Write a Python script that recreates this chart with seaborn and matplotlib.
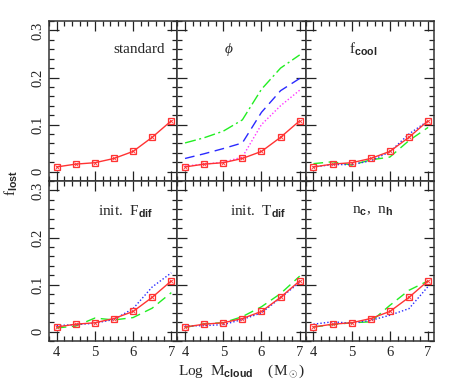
import numpy as np
import pandas as pd
import matplotlib
matplotlib.use('Agg')
import matplotlib.pyplot as plt
from matplotlib.ticker import MultipleLocator
import seaborn as sns

# log cloud mass
logm = [4.0, 4.5, 5.0, 5.5, 6.0, 6.5, 7.0]

# standard model (red squares, shown in every panel)
standard = [0.010, 0.016, 0.019, 0.028, 0.043, 0.073, 0.108]

# phi panel
phi_green = [0.061, 0.072, 0.086, 0.110, 0.175, 0.220, 0.248]
phi_blue = [0.028, 0.038, 0.049, 0.061, 0.126, 0.172, 0.198]
phi_magenta = [0.012, 0.016, 0.020, 0.031, 0.100, 0.140, 0.173]

# f_cool panel
fcool_green = [0.017, 0.021, 0.014, 0.025, 0.031, 0.066, 0.094]
fcool_blue = [0.010, 0.015, 0.015, 0.023, 0.042, 0.080, 0.108]

# init. F_dif panel
fdif_green = [0.008, 0.012, 0.029, 0.025, 0.030, 0.050, 0.083]
fdif_blue = [0.013, 0.015, 0.018, 0.026, 0.049, 0.095, 0.125]

# init. T_dif panel
tdif_green = [0.009, 0.017, 0.019, 0.032, 0.053, 0.081, 0.118]
tdif_blue = [0.012, 0.013, 0.015, 0.026, 0.040, 0.072, 0.105]

# n_c, n_h panel
nc_green = [0.010, 0.015, 0.019, 0.021, 0.056, 0.088, 0.108]
nc_blue = [0.016, 0.021, 0.018, 0.024, 0.035, 0.049, 0.096]

titles = ['standard', r'$\phi$', r'f$_{\rm cool}$',
          r'init.  F$_{\rm dif}$', r'init.  T$_{\rm dif}$', r'n$_{\rm c}$,  n$_{\rm h}$']
title_pos = [(0.70, 0.82), (0.40, 0.82), (0.45, 0.82),
             (0.60, 0.81), (0.63, 0.81), (0.52, 0.81)]

GREEN = '#22ee22'
BLUE = '#2a2aff'
MAGENTA = '#ff33ff'
RED = '#ff3333'

dash_dot = (0, (8, 2.5, 1.5, 2.5))
long_dash = (0, (7, 4))
dotted = (0, (1, 1.5))

extras = [
    [],
    [(phi_green, GREEN, dash_dot), (phi_blue, BLUE, long_dash), (phi_magenta, MAGENTA, dotted)],
    [(fcool_green, GREEN, long_dash), (fcool_blue, BLUE, dotted)],
    [(fdif_green, GREEN, long_dash), (fdif_blue, BLUE, dotted)],
    [(tdif_green, GREEN, long_dash), (tdif_blue, BLUE, dotted)],
    [(nc_green, GREEN, long_dash), (nc_blue, BLUE, dotted)],
]

sns.set_style('ticks')
plt.rcParams['font.family'] = ['Liberation Serif', 'DejaVu Serif']
plt.rcParams['mathtext.fontset'] = 'custom'
plt.rcParams['mathtext.rm'] = 'Liberation Sans:bold'
plt.rcParams['mathtext.it'] = 'Liberation Serif:italic'

fig, axes = plt.subplots(2, 3, figsize=(4.58, 3.82), dpi=100, sharex=True, sharey=True)
fig.subplots_adjust(left=0.107, right=0.948, top=0.945, bottom=0.107, wspace=0, hspace=0)

for i, ax in enumerate(axes.flat):
    for vals, col, ls in extras[i]:
        sns.lineplot(x=logm, y=vals, ax=ax, color=col, linestyle=ls, lw=1.0)
    sns.lineplot(x=logm, y=standard, ax=ax, color=RED, lw=1.0, marker='s',
                 markersize=4.5, markerfacecolor='none', markeredgecolor=RED,
                 markeredgewidth=0.9)
    ax.scatter(logm, standard, marker='x', s=8, color=RED, linewidths=0.6, zorder=5)

    ax.set_xlim(3.8, 7.16)
    ax.set_ylim(-0.02, 0.32)
    ax.xaxis.set_major_locator(MultipleLocator(1))
    ax.xaxis.set_minor_locator(MultipleLocator(0.2))
    ax.yaxis.set_major_locator(MultipleLocator(0.1))
    ax.yaxis.set_minor_locator(MultipleLocator(0.02))
    ax.tick_params(which='both', direction='in', top=True, right=True, colors='#222222',
                   labelsize=10.5)
    ax.tick_params(which='major', length=7, width=0.9)
    ax.tick_params(which='minor', length=3.5, width=0.9)
    for s in ax.spines.values():
        s.set_linewidth(1.1)
        s.set_color('#333333')
    ax.set_xlabel('')
    ax.set_ylabel('')
    tx, ty = title_pos[i]
    ax.text(tx, ty, titles[i], transform=ax.transAxes, ha='center', va='center',
            fontsize=11)

for ax in axes[:, 0]:
    ax.set_yticks([0, 0.1, 0.2, 0.3])
    ax.set_yticklabels(['0', '0.1', '0.2', '0.3'], rotation=90, va='center')

fig.text(0.025, 0.52, r'f$_{\rm lost}$', rotation=90, ha='center', va='center', fontsize=11)
fig.text(0.527, 0.027, r'Log  M$_{\rm cloud}$    (M$_\odot$)', ha='center', va='center',
         fontsize=11)

fig.savefig('out.png', dpi=100)
